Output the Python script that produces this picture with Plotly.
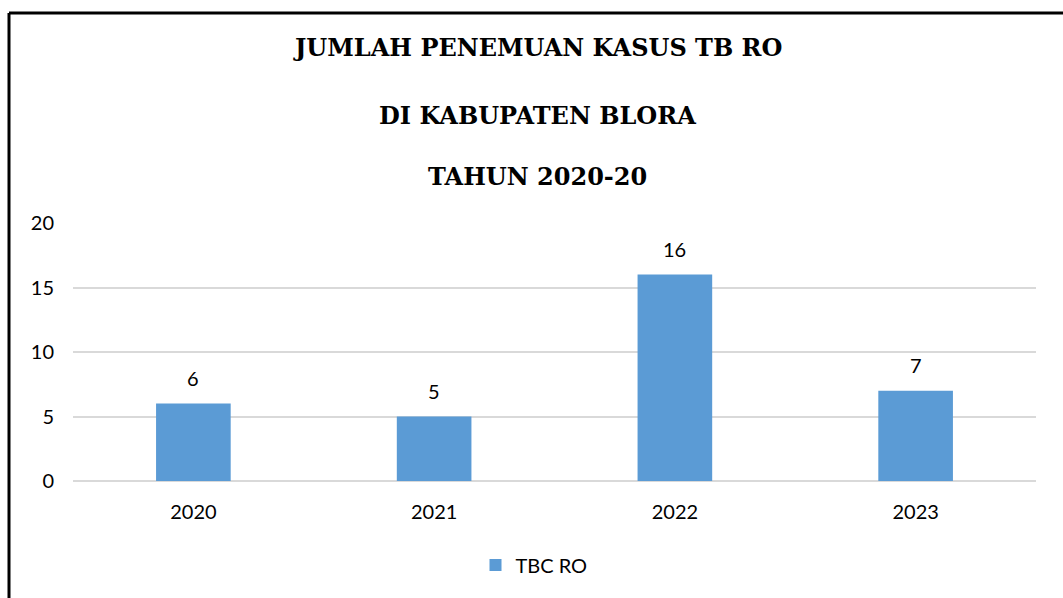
import plotly.graph_objects as go

categories = ["2020", "2021", "2022", "2023"]
values = [6, 5, 16, 7]
series_name = "TBC RO"
title_lines = ["JUMLAH PENEMUAN KASUS TB RO", "DI KABUPATEN BLORA", "TAHUN 2020-20"]
y_ticks = [0, 5, 10, 15, 20]

W, H = 1063, 598
L, R, T, B = 73, 27, 223, 117
pw, ph = W - L - R, H - T - B

def px_x(x):
    return (x - L) / pw

def px_y(y):
    return (H - B - y) / ph

fig = go.Figure()
fig.add_trace(go.Bar(
    x=categories, y=values, name=series_name,
    marker=dict(color="#5B9BD5", line=dict(width=0)),
    showlegend=True,
))

font_main = "Lato, Open Sans, sans-serif"
fs = 20

for i, v in enumerate(values):
    fig.add_annotation(x=i, y=v, text=str(v), showarrow=False, yshift=26,
                       font=dict(size=fs, color="#000000", family=font_main))

for line, yy in zip(title_lines, [48, 116, 177]):
    fig.add_annotation(xref="paper", yref="paper", x=px_x(537), y=px_y(yy),
                       text="<b>%s</b>" % line, showarrow=False,
                       xanchor="center", yanchor="middle",
                       font=dict(size=24, color="#000000", family="DejaVu Serif"))

# border lines
fig.add_shape(type="line", xref="paper", yref="paper",
              x0=px_x(9), x1=px_x(1070), y0=px_y(13), y1=px_y(13),
              line=dict(color="#000000", width=3))
fig.add_shape(type="line", xref="paper", yref="paper",
              x0=px_x(9), x1=px_x(9), y0=px_y(13), y1=px_y(610),
              line=dict(color="#000000", width=3))

fig.update_layout(
    width=W, height=H,
    margin=dict(l=L, r=R, t=T, b=B),
    paper_bgcolor="white", plot_bgcolor="white",
    bargap=0.69,
    font=dict(family=font_main, size=fs, color="#000000"),
    legend=dict(orientation="h", x=px_x(534), y=px_y(565), xanchor="center", yanchor="middle",
                font=dict(size=fs, family=font_main), itemwidth=30),
)
fig.update_yaxes(range=[0, 20], tickvals=y_ticks, showgrid=True, gridcolor="#D9D9D9", gridwidth=1.5,
                 zeroline=True, zerolinecolor="#D9D9D9", zerolinewidth=1.5, showline=False,
                 ticks="", ticklabelstandoff=18, tickfont=dict(size=fs, family=font_main))
fig.update_xaxes(type="category", range=[-0.5, len(categories) - 0.5], showline=False, ticks="",
                 ticklabelstandoff=17, tickfont=dict(size=fs, family=font_main))

fig.write_html("out.html", config={"displayModeBar": False},
               post_script="document.body.style.margin='0';")
